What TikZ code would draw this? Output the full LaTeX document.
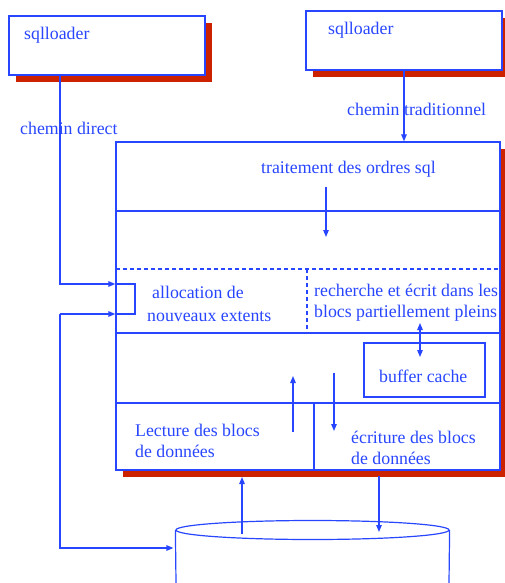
\documentclass[tikz,border=0pt]{standalone}
\usepackage{fontspec}
\setmainfont{Liberation Serif}
\usetikzlibrary{arrows.meta,shadows,shapes.geometric}
\definecolor{lineblue}{RGB}{40,70,255}
\definecolor{shadowred}{RGB}{204,34,0}
\tikzset{
  panel/.style={rectangle, draw=lineblue, line width=1.3pt, fill=white, inner sep=0pt,
    drop shadow={fill=shadowred, opacity=1, shadow xshift=7pt, shadow yshift=-7pt}},
  plain/.style={rectangle, draw=lineblue, line width=1.2pt, inner sep=0pt},
  lbl/.style={text=lineblue, font=\rmfamily\fontsize{17.8}{21}\selectfont, inner sep=0pt,
    anchor=base west, align=left},
  link/.style={draw=lineblue, line width=1.2pt},
  arr/.style={link, -{Triangle[length=7pt,width=5.5pt]}},
  dbl/.style={link, {Triangle[length=7pt,width=5.5pt]}-{Triangle[length=7pt,width=5.5pt]}}
}
\begin{document}
\begin{tikzpicture}[x=1pt,y=-1pt]
  \useasboundingbox (0,0) rectangle (505,583);

  \node[panel, minimum width=196, minimum height=59] (sqlA) at (107,45.5) {};
  \node[panel, minimum width=196, minimum height=59] (sqlB) at (404,40.5) {};
  \node[panel, minimum width=384, minimum height=328] (main) at (308,306) {};
  \node[plain, minimum width=121, minimum height=54] (cache) at (424.5,370) {};

  % the base of a two-line label is its last line
  \node[lbl] (sqlAtxt) at (24,40) {sqlloader};
  \node[lbl] (sqlBtxt) at (328,35) {sqlloader};
  \node[lbl] (direct) at (20,134) {chemin direct};
  \node[lbl] (trad) at (347,115) {chemin traditionnel};
  \node[lbl] (ordres) at (261,173) {traitement des ordres sql};
  \node[lbl] (alloc) at (152,298) {allocation de};
  \node[lbl] (extents) at (147,321) {nouveaux extents};
  \node[lbl] (search) at (314,317) {recherche et écrit dans les\\blocs partiellement pleins};
  \node[lbl] (cachetxt) at (379,382) {buffer cache};
  \node[lbl] (lecture) at (135,457) {Lecture des blocs\\de données};
  \node[lbl] (ecriture) at (351,464) {écriture des blocs\\de données};

  % zones of the main box
  \draw[link] (116,211) -- (500,211);
  \draw[link, dash pattern=on 4pt off 3pt] (116,269) -- (500,269);
  \draw[link, dash pattern=on 4pt off 3pt] (307,269) -- (307,333);
  \draw[link] (116,333) -- (500,333);
  \draw[link] (116,403) -- (500,403);
  \draw[link] (314,403) -- (314,470);

  % data file
  \node[ellipse, draw=lineblue, line width=1.2pt, minimum width=273, minimum height=19,
    inner sep=0pt] (disk) at (312.5,530) {};
  \draw[link] (disk.west) -- (176,583);
  \draw[link] (disk.east) -- (449,583);

  \coordinate (loopT) at (135,284);
  \coordinate (loopB) at (135,314);
  \coordinate (split) at (60,314);
  \coordinate (rdA) at (242,534);
  \coordinate (rdB) at (242,477);
  \coordinate (wrA) at (379,476);
  \coordinate (wrB) at (379,532);

  \draw[arr] ([xshift=-47pt]sqlA.south) |- (main.west |- loopT);
  \draw[link] (main.west |- loopT) -- (loopT) -- (loopB) -- (main.west |- loopB);
  \draw[arr] (split) -- (main.west |- loopB);
  \draw[arr] (split) |- ([xshift=-2pt]disk.west |- 0,548);
  \draw[arr] (sqlB.south) -- (sqlB.south |- main.north);

  \draw[arr] (326,187) -- (326,237);
  \draw[dbl] (420,323) -- (420,357);
  \draw[arr] (293,432) -- (293,376);
  \draw[arr] (334,373) -- (334,431);
  \draw[arr] (rdA) -- (rdB);
  \draw[arr] (wrA) -- (wrB);
\end{tikzpicture}
\end{document}
